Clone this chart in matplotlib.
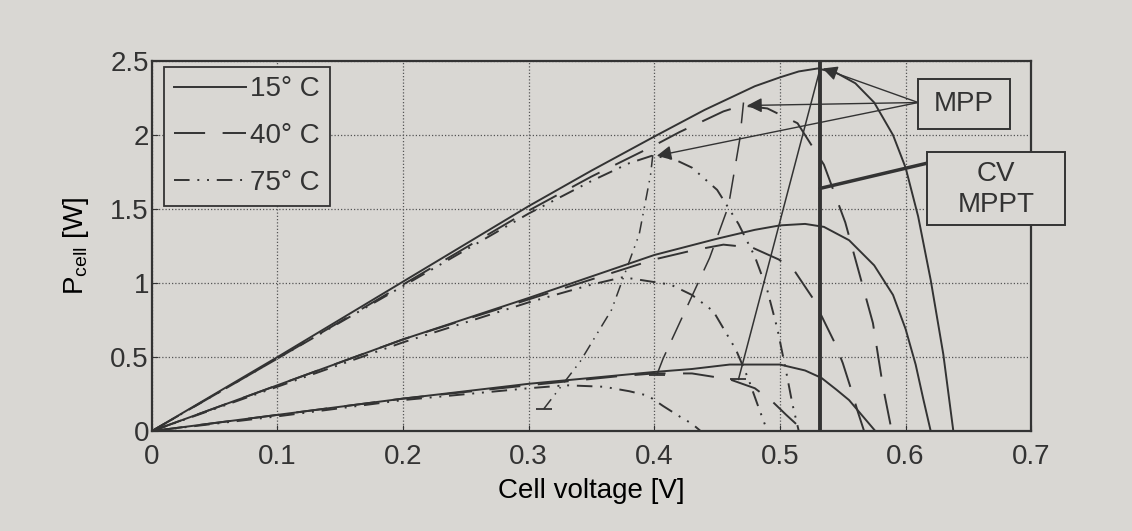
import matplotlib
matplotlib.use("Agg")
import matplotlib.pyplot as plt
import numpy as np
from matplotlib.patches import Rectangle
from matplotlib.ticker import FuncFormatter

PAPER = "#d9d7d3"
INK = "#333333"

# P-V curves: (voltage [V], power [W]) for three irradiances
V15_hi = [0, 0.1, 0.2, 0.3, 0.35, 0.4, 0.42, 0.44, 0.46, 0.48, 0.5, 0.515, 0.53, 0.545, 0.56, 0.575, 0.59, 0.6, 0.61, 0.62, 0.63, 0.638]
P15_hi = [0, 0.50, 1.01, 1.52, 1.76, 1.99, 2.08, 2.17, 2.25, 2.33, 2.39, 2.43, 2.45, 2.42, 2.35, 2.22, 2.00, 1.78, 1.45, 1.02, 0.52, 0]
V15_mid = [0, 0.1, 0.2, 0.3, 0.4, 0.45, 0.48, 0.5, 0.52, 0.535, 0.555, 0.575, 0.59, 0.6, 0.608, 0.614, 0.62]
P15_mid = [0, 0.31, 0.62, 0.90, 1.19, 1.30, 1.36, 1.39, 1.40, 1.38, 1.29, 1.12, 0.92, 0.69, 0.45, 0.22, 0]
V15_lo = [0, 0.1, 0.2, 0.3, 0.4, 0.43, 0.46, 0.5, 0.52, 0.533, 0.545, 0.555, 0.565, 0.572, 0.576]
P15_lo = [0, 0.11, 0.22, 0.32, 0.40, 0.42, 0.45, 0.45, 0.41, 0.36, 0.28, 0.21, 0.11, 0.04, 0]

V40_hi = [0, 0.1, 0.2, 0.3, 0.35, 0.4, 0.42, 0.44, 0.455, 0.47, 0.49, 0.514, 0.535, 0.552, 0.563, 0.574, 0.582, 0.589]
P40_hi = [0, 0.49, 0.99, 1.49, 1.72, 1.93, 2.02, 2.10, 2.16, 2.20, 2.18, 2.08, 1.80, 1.41, 1.07, 0.73, 0.30, 0]
V40_mid = [0, 0.1, 0.2, 0.3, 0.4, 0.43, 0.455, 0.478, 0.499, 0.511, 0.526, 0.533, 0.544, 0.55, 0.556, 0.562, 0.567]
P40_mid = [0, 0.31, 0.62, 0.89, 1.16, 1.22, 1.26, 1.24, 1.16, 1.09, 0.90, 0.78, 0.59, 0.46, 0.30, 0.13, 0]
V40_lo = [0, 0.1, 0.2, 0.3, 0.37, 0.4, 0.43, 0.46, 0.48, 0.494, 0.505, 0.514, 0.52]
P40_lo = [0, 0.11, 0.22, 0.31, 0.37, 0.39, 0.39, 0.35, 0.29, 0.20, 0.11, 0.04, 0]

V75_hi = [0, 0.1, 0.2, 0.3, 0.35, 0.38, 0.398, 0.415, 0.43, 0.45, 0.467, 0.48, 0.49, 0.498, 0.505, 0.51, 0.515]
P75_hi = [0, 0.49, 0.98, 1.47, 1.69, 1.81, 1.86, 1.84, 1.78, 1.63, 1.40, 1.18, 0.95, 0.69, 0.40, 0.18, 0]
V75_mid = [0, 0.1, 0.2, 0.3, 0.35, 0.375, 0.413, 0.43, 0.447, 0.465, 0.475, 0.483, 0.49]
P75_mid = [0, 0.30, 0.60, 0.87, 0.99, 1.04, 0.99, 0.92, 0.81, 0.55, 0.35, 0.16, 0]
V75_lo = [0, 0.1, 0.2, 0.3, 0.33, 0.36, 0.38, 0.395, 0.407, 0.42, 0.43, 0.437]
P75_lo = [0, 0.10, 0.21, 0.29, 0.31, 0.30, 0.27, 0.24, 0.17, 0.10, 0.05, 0]

# MPP loci over irradiance, one per temperature
V15_mpp = [0.467, 0.532]
P15_mpp = [0.35, 2.45]
V40_mpp = [0.402, 0.407, 0.444, 0.459, 0.468, 0.471]
P40_mpp = [0.38, 0.49, 1.17, 1.52, 1.97, 2.22]
V75_mpp = [0.312, 0.341, 0.366, 0.388, 0.397, 0.399]
P75_mpp = [0.15, 0.47, 0.82, 1.33, 1.73, 1.88]

V_CV = 0.532  # constant-voltage MPPT setpoint

labels = ["15° C", "40° C", "75° C"]
styles = ["-", (0, (16, 9)), (0, (8, 4, 1, 4, 1, 4))]
curves = [
    [(V15_hi, P15_hi), (V15_mid, P15_mid), (V15_lo, P15_lo)],
    [(V40_hi, P40_hi), (V40_mid, P40_mid), (V40_lo, P40_lo)],
    [(V75_hi, P75_hi), (V75_mid, P75_mid), (V75_lo, P75_lo)],
]
loci = [(V15_mpp, P15_mpp), (V40_mpp, P40_mpp), (V75_mpp, P75_mpp)]

plt.rcParams["font.family"] = ["Liberation Sans", "DejaVu Sans"]
plt.rcParams["mathtext.fontset"] = "custom"
plt.rcParams["mathtext.rm"] = "Liberation Sans"
plt.rcParams["text.color"] = INK

fig = plt.figure(figsize=(11.32, 5.31), dpi=100, facecolor=PAPER)
ax = fig.add_axes([0.134, 0.188, 0.777, 0.697], facecolor=PAPER)

handles = []
for label, ls, group, (lv, lp) in zip(labels, styles, curves, loci):
    for i, (v, p) in enumerate(group):
        h, = ax.plot(v, p, color=INK, lw=1.4, ls=ls)
        if i == 0:
            h.set_label(label)
            handles.append(h)
    ax.plot(lv, lp, color=INK, lw=1.1, ls=ls)
    ax.plot(lv[0], lp[0], marker="_", ms=12, mew=1.3, color=INK)

ax.axvline(V_CV, color=INK, lw=2.8)

# MPP call-outs: arrows from the box to the peak of each high-irradiance curve
for v, p in [c[0] for c in curves]:
    k = int(np.argmax(p))
    ax.annotate("", xy=(v[k] + 0.004, p[k]), xytext=(0.61, 2.22),
                arrowprops=dict(arrowstyle="-|>", color=INK, lw=1.0,
                                mutation_scale=22, shrinkA=0, shrinkB=0))
ax.add_patch(Rectangle((0.61, 2.04), 0.073, 0.34, facecolor=PAPER,
                       edgecolor=INK, lw=1.4, zorder=5))
ax.text(0.6465, 2.21, "MPP", fontsize=20, ha="center", va="center", zorder=6)

ax.annotate("", xy=(V_CV, 1.64), xytext=(0.617, 1.81),
            arrowprops=dict(arrowstyle="-", color=INK, lw=2.5,
                            shrinkA=0, shrinkB=0))
ax.add_patch(Rectangle((0.617, 1.39), 0.11, 0.495, facecolor=PAPER,
                       edgecolor=INK, lw=1.4, zorder=5, clip_on=False))
ax.text(0.672, 1.635, "CV\nMPPT", fontsize=20, ha="center", va="center",
        linespacing=1.25, zorder=6)

ax.set_xlim(0, 0.7)
ax.set_ylim(0, 2.5)
ax.set_xticks(np.arange(0, 0.71, 0.1))
ax.set_yticks(np.arange(0, 2.51, 0.5))
fmt = FuncFormatter(lambda x, pos: f"{x:g}")
ax.xaxis.set_major_formatter(fmt)
ax.yaxis.set_major_formatter(fmt)
ax.tick_params(direction="in", length=4, labelsize=20, colors=INK)
ax.tick_params(axis="x", pad=9)
ax.tick_params(axis="y", pad=2)
ax.grid(True, color="#555555", lw=0.9, ls=(0, (1, 1.6)))
for s in ax.spines.values():
    s.set_color(INK)
    s.set_linewidth(1.6)

ax.set_xlabel("Cell voltage [V]", fontsize=20, labelpad=6)
ax.set_ylabel(r"P$_\mathrm{cell}$ [W]", fontsize=20, labelpad=14)

leg = ax.legend(handles=handles, loc="upper left", bbox_to_anchor=(0.014, 0.985),
                borderaxespad=0, fontsize=20, handlelength=2.6, handletextpad=0.15,
                labelspacing=0.75, borderpad=0.35, fancybox=False,
                facecolor=PAPER, edgecolor=INK, framealpha=1)
leg.get_frame().set_linewidth(1.3)

fig.savefig("out.png", dpi=100, facecolor=PAPER)
